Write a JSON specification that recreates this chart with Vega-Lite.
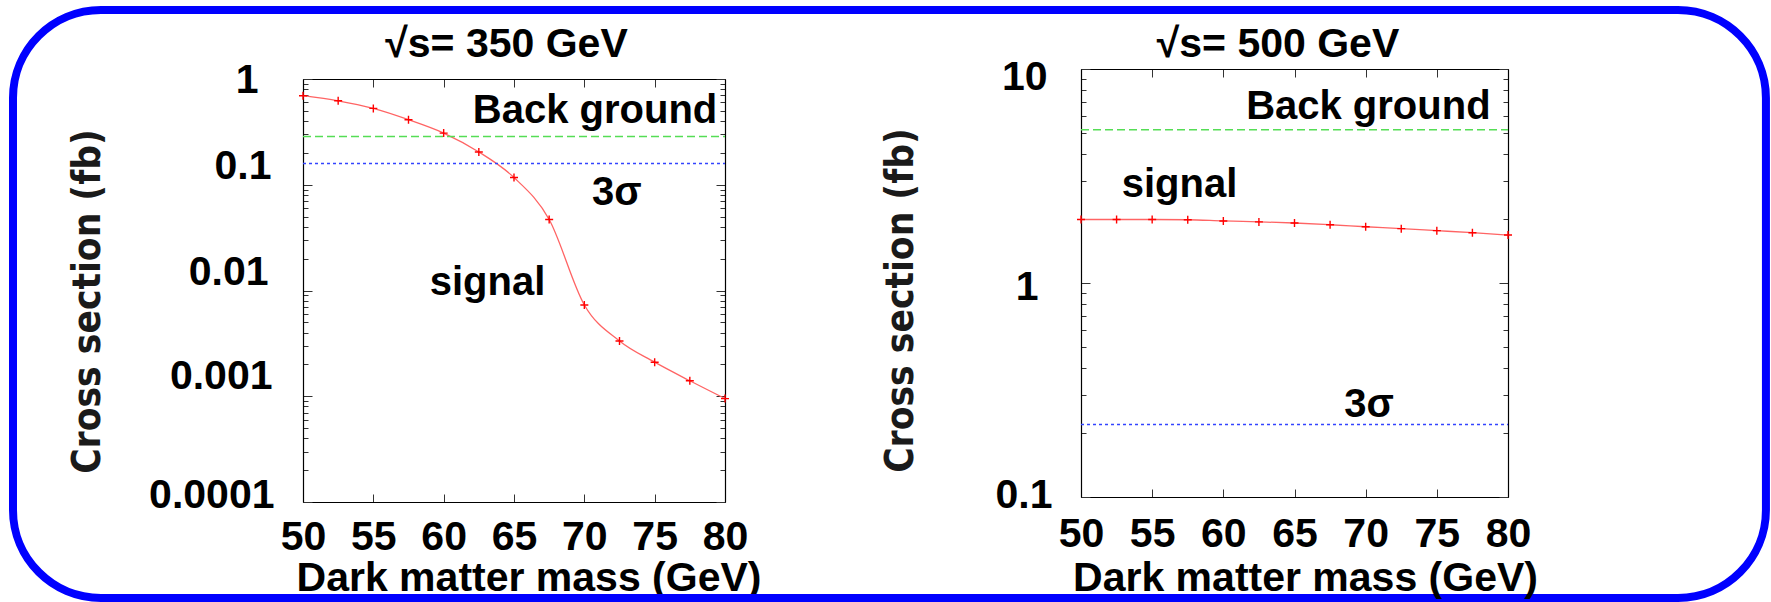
{
  "$schema": "https://vega.github.io/schema/vega-lite/v6.json",
  "background": "white",
  "padding": {"left": 9, "top": 6, "right": 1, "bottom": 0},
  "bounds": "flush",
  "spacing": 356,
  "config": {
    "view": {"stroke": null},
    "font": "Liberation Sans",
    "axis": {
      "grid": false,
      "domainColor": "#000000",
      "domainWidth": 1.2,
      "tickColor": "#333333",
      "tickWidth": 1,
      "labelFont": "Liberation Sans",
      "labelFontSize": 41,
      "labelFontWeight": "bold",
      "labelColor": "#000000",
      "labelOverlap": false,
      "labelFlush": false,
      "titleFont": "Liberation Sans",
      "titleFontWeight": "bold",
      "titleColor": "#000000"
    }
  },
  "hconcat": [
    {
      "width": 422,
      "height": 433,
      "layer": [
        {
          "data": {"values": [
            {"mass": 50, "xsec": 0.695},
            {"mass": 52.5, "xsec": 0.622},
            {"mass": 55, "xsec": 0.527},
            {"mass": 57.5, "xsec": 0.412},
            {"mass": 60, "xsec": 0.308},
            {"mass": 62.5, "xsec": 0.204},
            {"mass": 65, "xsec": 0.117},
            {"mass": 67.5, "xsec": 0.0469},
            {"mass": 70, "xsec": 0.0073},
            {"mass": 72.5, "xsec": 0.00333},
            {"mass": 75, "xsec": 0.0021},
            {"mass": 77.5, "xsec": 0.0014},
            {"mass": 80, "xsec": 0.00095}
          ]},
          "mark": {"type": "line", "color": "#ff6464", "strokeWidth": 1.3, "interpolate": "monotone",
                   "point": {"shape": "M-1,0L1,0M0,-1L0,1", "filled": false, "color": "#ff0000", "strokeWidth": 1.4, "size": 64}},
          "encoding": {
            "x": {"field": "mass", "type": "quantitative",
                  "scale": {"domain": [50, 80], "nice": false, "zero": false},
                  "axis": {"orient": "bottom", "values": [50, 55, 60, 65, 70, 75, 80], "format": "d",
                           "tickSize": -8, "labelPadding": 23,
                           "title": "Dark matter mass (GeV)", "titleFontSize": 41,
                           "titleX": 225.5, "titleY": 88, "titleAlign": "center", "titleBaseline": "alphabetic"}},
            "y": {"field": "xsec", "type": "quantitative",
                  "scale": {"type": "log", "domain": [0.0001, 1], "range": [433, 10], "nice": false},
                  "axis": {"orient": "left",
                           "values": [0.0001, 0.0002, 0.0003, 0.0004, 0.0005, 0.0006, 0.0007, 0.0008, 0.0009,
                                      0.001, 0.002, 0.003, 0.004, 0.005, 0.006, 0.007, 0.008, 0.009,
                                      0.01, 0.02, 0.03, 0.04, 0.05, 0.06, 0.07, 0.08, 0.09,
                                      0.1, 0.2, 0.3, 0.4, 0.5, 0.6, 0.7, 0.8, 0.9, 1],
                           "format": "~g",
                           "labelExpr": "indexof([1, 0.1, 0.01, 0.001, 0.0001], datum.value) >= 0 ? datum.label : ''",
                           "tickSize": {"condition": {"test": "indexof([1, 0.1, 0.01, 0.001, 0.0001], datum.value) >= 0", "value": -9}, "value": -5},
                           "labelPadding": {"condition": [
                              {"test": "datum.value == 1", "value": 54},
                              {"test": "datum.value == 0.1", "value": 41},
                              {"test": "datum.value == 0.01", "value": 44},
                              {"test": "datum.value == 0.001", "value": 40}], "value": 38},
                           "labelOffset": {"condition": [
                              {"test": "datum.value == 1", "value": 1},
                              {"test": "datum.value == 0.0001", "value": -7},
                              {"test": "datum.value == 0.001", "value": -20}], "value": -18},
                           "title": "Cross section (fb)",
                           "titleFont": "DejaVu Sans Condensed, DejaVu Sans",
                           "titleFontSize": 38.5, "titleColor": "#1a1a1a",
                           "titleX": -215.5, "titleY": 232, "titleAngle": -90,
                           "titleAlign": "center", "titleBaseline": "middle"}}
          }
        },
        {
          "data": {"values": [
            {"line": "Back ground", "xsec": 0.286},
            {"line": "3sigma", "xsec": 0.159}
          ]},
          "mark": {"type": "rule", "strokeWidth": 1.4},
          "encoding": {
            "x": {"datum": 50, "type": "quantitative",
                  "scale": {"domain": [50, 80], "nice": false, "zero": false},
                  "axis": {"orient": "top", "values": [50, 55, 60, 65, 70, 75, 80], "tickSize": -8,
                           "labels": false, "offset": -10,
                           "title": "√s= 350 GeV", "titleFontSize": 41,
                           "titleX": 203, "titleY": -22.3, "titleAlign": "center", "titleBaseline": "alphabetic"}},
            "x2": {"datum": 80},
            "y": {"field": "xsec", "type": "quantitative",
                  "scale": {"type": "log", "domain": [0.0001, 1], "range": [433, 10], "nice": false},
                  "axis": {"orient": "right",
                           "values": [0.0001, 0.0002, 0.0003, 0.0004, 0.0005, 0.0006, 0.0007, 0.0008, 0.0009,
                                      0.001, 0.002, 0.003, 0.004, 0.005, 0.006, 0.007, 0.008, 0.009,
                                      0.01, 0.02, 0.03, 0.04, 0.05, 0.06, 0.07, 0.08, 0.09,
                                      0.1, 0.2, 0.3, 0.4, 0.5, 0.6, 0.7, 0.8, 0.9, 1],
                           "labels": false, "title": null,
                           "tickSize": {"condition": {"test": "indexof([1, 0.1, 0.01, 0.001, 0.0001], datum.value) >= 0", "value": -9}, "value": -5}}},
            "color": {"field": "line", "type": "nominal",
                      "scale": {"domain": ["Back ground", "3sigma"], "range": ["#55dd55", "#3344ff"]}, "legend": null},
            "strokeDash": {"field": "line", "type": "nominal",
                           "scale": {"domain": ["Back ground", "3sigma"], "range": [[8, 4], [3, 3]]}, "legend": null}
          }
        },
        {
          "data": {"values": [
            {"label": "Back ground", "mass": 70.76, "xsec": 0.3813},
            {"label": "3σ", "mass": 72.3, "xsec": 0.0644},
            {"label": "signal", "mass": 63.12, "xsec": 0.00907}
          ]},
          "mark": {"type": "text", "font": "Liberation Sans", "fontSize": 40, "fontWeight": "bold",
                   "align": "center", "baseline": "alphabetic", "color": "#000000"},
          "encoding": {
            "x": {"field": "mass", "type": "quantitative", "scale": {"domain": [50, 80], "nice": false, "zero": false}, "axis": null},
            "y": {"field": "xsec", "type": "quantitative", "scale": {"type": "log", "domain": [0.0001, 1], "range": [433, 10], "nice": false}, "axis": null},
            "text": {"field": "label"}
          }
        },
        {
          "data": {"values": [{}]},
          "mark": {"type": "rect", "filled": false, "stroke": "#0000ff", "strokeWidth": 8, "cornerRadius": 88},
          "encoding": {
            "x": {"datum": 29.384, "type": "quantitative", "scale": {"domain": [50, 80], "nice": false, "zero": false}, "axis": null},
            "x2": {"datum": 154.0},
            "y": {"datum": 4.492, "type": "quantitative", "scale": {"type": "log", "domain": [0.0001, 1], "range": [433, 10], "nice": false}, "axis": null},
            "y2": {"datum": 0.00001237}
          }
        }
      ],
      "resolve": {"axis": {"x": "independent", "y": "independent"}}
    },
    {
      "width": 427,
      "height": 428,
      "layer": [
        {
          "data": {"values": [
            {"mass": 50, "xsec": 1.98},
            {"mass": 52.5, "xsec": 1.98},
            {"mass": 55, "xsec": 1.98},
            {"mass": 57.5, "xsec": 1.975},
            {"mass": 60, "xsec": 1.95},
            {"mass": 62.5, "xsec": 1.93},
            {"mass": 65, "xsec": 1.907},
            {"mass": 67.5, "xsec": 1.872},
            {"mass": 70, "xsec": 1.832},
            {"mass": 72.5, "xsec": 1.795},
            {"mass": 75, "xsec": 1.756},
            {"mass": 77.5, "xsec": 1.718},
            {"mass": 80, "xsec": 1.675}
          ]},
          "mark": {"type": "line", "color": "#ff6464", "strokeWidth": 1.3, "interpolate": "monotone",
                   "point": {"shape": "M-1,0L1,0M0,-1L0,1", "filled": false, "color": "#ff0000", "strokeWidth": 1.4, "size": 64}},
          "encoding": {
            "x": {"field": "mass", "type": "quantitative",
                  "scale": {"domain": [50, 80], "nice": false, "zero": false},
                  "axis": {"orient": "bottom", "values": [50, 55, 60, 65, 70, 75, 80], "format": "d",
                           "tickSize": -8, "labelPadding": 25,
                           "title": "Dark matter mass (GeV)", "titleFontSize": 41,
                           "titleX": 224, "titleY": 93, "titleAlign": "center", "titleBaseline": "alphabetic"}},
            "y": {"field": "xsec", "type": "quantitative",
                  "scale": {"type": "log", "domain": [0.1, 10], "range": [428, 0], "nice": false},
                  "axis": {"orient": "left",
                           "values": [0.1, 0.2, 0.3, 0.4, 0.5, 0.6, 0.7, 0.8, 0.9,
                                      1, 2, 3, 4, 5, 6, 7, 8, 9, 10],
                           "format": "~g",
                           "labelExpr": "indexof([10, 1, 0.1], datum.value) >= 0 ? datum.label : ''",
                           "tickSize": {"condition": {"test": "indexof([10, 1, 0.1], datum.value) >= 0", "value": -9}, "value": -5},
                           "labelPadding": {"condition": [
                              {"test": "datum.value == 10", "value": 43},
                              {"test": "datum.value == 1", "value": 52}], "value": 38},
                           "labelOffset": {"condition": [
                              {"test": "datum.value == 10", "value": 8},
                              {"test": "datum.value == 1", "value": 4}], "value": -2},
                           "title": "Cross section (fb)",
                           "titleFont": "DejaVu Sans Condensed, DejaVu Sans",
                           "titleFontSize": 38.5, "titleColor": "#1a1a1a",
                           "titleX": -181, "titleY": 231, "titleAngle": -90,
                           "titleAlign": "center", "titleBaseline": "middle"}}
          }
        },
        {
          "data": {"values": [
            {"line": "Back ground", "xsec": 5.2},
            {"line": "3sigma", "xsec": 0.218}
          ]},
          "mark": {"type": "rule", "strokeWidth": 1.4},
          "encoding": {
            "x": {"datum": 50, "type": "quantitative",
                  "scale": {"domain": [50, 80], "nice": false, "zero": false},
                  "axis": {"orient": "top", "values": [50, 55, 60, 65, 70, 75, 80], "tickSize": -8,
                           "labels": false,
                           "title": "√s= 500 GeV", "titleFontSize": 41,
                           "titleX": 196.5, "titleY": -12.3, "titleAlign": "center", "titleBaseline": "alphabetic"}},
            "x2": {"datum": 80},
            "y": {"field": "xsec", "type": "quantitative",
                  "scale": {"type": "log", "domain": [0.1, 10], "range": [428, 0], "nice": false},
                  "axis": {"orient": "right",
                           "values": [0.1, 0.2, 0.3, 0.4, 0.5, 0.6, 0.7, 0.8, 0.9,
                                      1, 2, 3, 4, 5, 6, 7, 8, 9, 10],
                           "labels": false, "title": null,
                           "tickSize": {"condition": {"test": "indexof([10, 1, 0.1], datum.value) >= 0", "value": -9}, "value": -5}}},
            "color": {"field": "line", "type": "nominal",
                      "scale": {"domain": ["Back ground", "3sigma"], "range": ["#55dd55", "#3344ff"]}, "legend": null},
            "strokeDash": {"field": "line", "type": "nominal",
                           "scale": {"domain": ["Back ground", "3sigma"], "range": [[8, 4], [3, 3]]}, "legend": null}
          }
        },
        {
          "data": {"values": [
            {"label": "Back ground", "mass": 70.19, "xsec": 5.82},
            {"label": "signal", "mass": 56.92, "xsec": 2.53},
            {"label": "3σ", "mass": 70.23, "xsec": 0.2373}
          ]},
          "mark": {"type": "text", "font": "Liberation Sans", "fontSize": 40, "fontWeight": "bold",
                   "align": "center", "baseline": "alphabetic", "color": "#000000"},
          "encoding": {
            "x": {"field": "mass", "type": "quantitative", "scale": {"domain": [50, 80], "nice": false, "zero": false}, "axis": null},
            "y": {"field": "xsec", "type": "quantitative", "scale": {"type": "log", "domain": [0.1, 10], "range": [428, 0], "nice": false}, "axis": null},
            "text": {"field": "label"}
          }
        }
      ],
      "resolve": {"axis": {"x": "independent", "y": "independent"}}
    }
  ]
}
